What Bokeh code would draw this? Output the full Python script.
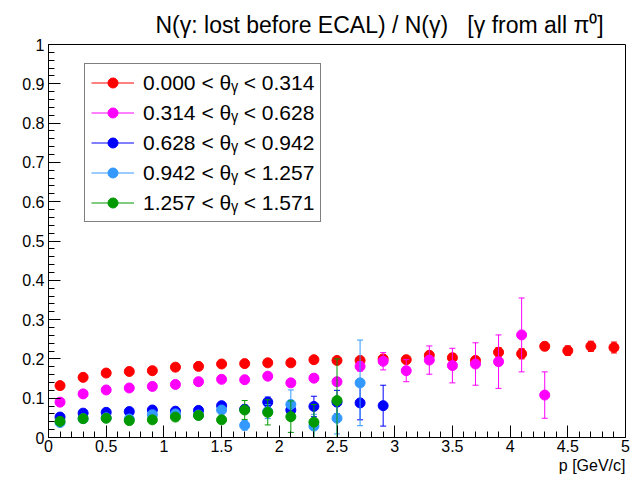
import numpy as np
from bokeh.plotting import figure
from bokeh.models import (FixedTicker, CustomJSTickFormatter, Legend, LegendItem,
                          Title, Range1d, ColumnDataSource)
from bokeh.embed import file_html
from bokeh.resources import INLINE

# ---------------- data ----------------
p_centers = [0.1, 0.3, 0.5, 0.7, 0.9, 1.1, 1.3, 1.5, 1.7, 1.9, 2.1, 2.3, 2.5,
             2.7, 2.9, 3.1, 3.3, 3.5, 3.7, 3.9, 4.1, 4.3, 4.5, 4.7, 4.9]

frac_theta1 = [0.132, 0.153, 0.164, 0.168, 0.170, 0.179, 0.181, 0.187, 0.188, 0.190,
               0.190, 0.198, 0.196, 0.196, 0.200, 0.198, 0.209, 0.203, 0.196, 0.217,
               0.213, 0.232, 0.221, 0.232, 0.229]
err_theta1 = [0.002, 0.002, 0.002, 0.002, 0.003, 0.003, 0.003, 0.003, 0.004, 0.004,
              0.005, 0.005, 0.006, 0.007, 0.008, 0.009, 0.010, 0.010, 0.010, 0.012,
              0.013, 0.010, 0.012, 0.013, 0.014]

frac_theta2 = [0.090, 0.111, 0.121, 0.126, 0.130, 0.135, 0.142, 0.148, 0.147, 0.156,
               0.139, 0.151, 0.142, 0.181, 0.194, 0.170, 0.197, 0.183, 0.187, 0.193,
               0.261, 0.108]
err_theta2 = [0.003, 0.003, 0.003, 0.004, 0.004, 0.005, 0.005, 0.006, 0.006, 0.007,
              0.008, 0.009, 0.010, 0.012, 0.022, 0.028, 0.036, 0.044, 0.054, 0.068,
              0.094, 0.059]

frac_theta3 = [0.052, 0.062, 0.064, 0.066, 0.070, 0.067, 0.069, 0.081, 0.072, 0.090,
               0.070, 0.079, 0.090, 0.088, 0.081]
err_theta3 = [0.003, 0.003, 0.004, 0.004, 0.005, 0.005, 0.006, 0.007, 0.010, 0.013,
              0.020, 0.026, 0.030, 0.043, 0.052]

frac_theta4 = [0.038, 0.048, 0.050, 0.047, 0.058, 0.060, 0.057, 0.070, 0.031, 0.066,
               0.084, 0.029, 0.049, 0.139]
err_theta4 = [0.003, 0.004, 0.004, 0.005, 0.006, 0.007, 0.008, 0.009, 0.012, 0.018,
              0.037, 0.030, 0.040, 0.109]

frac_theta5 = [0.041, 0.048, 0.049, 0.043, 0.045, 0.052, 0.056, 0.045, 0.070, 0.064,
               0.053, 0.039, 0.094]
err_theta5 = [0.003, 0.003, 0.004, 0.004, 0.005, 0.006, 0.007, 0.008, 0.024, 0.032,
              0.040, 0.045, 0.106]

series_labels = ["0.000 < θᵧ < 0.314", "0.314 < θᵧ < 0.628", "0.628 < θᵧ < 0.942",
                 "0.942 < θᵧ < 1.257", "1.257 < θᵧ < 1.571"]
series_colors = ["#ff0000", "#ff00ff", "#0000ff", "#3399ff", "#009900"]
series_values = [frac_theta1, frac_theta2, frac_theta3, frac_theta4, frac_theta5]
series_errors = [err_theta1, err_theta2, err_theta3, err_theta4, err_theta5]

x_major = [0, 0.5, 1, 1.5, 2, 2.5, 3, 3.5, 4, 4.5, 5]
x_minor = [i / 10 for i in range(51)]
y_major = [i / 10 for i in range(11)]
y_minor = [i / 50 for i in range(51)]

title_text = "N(γ: lost before ECAL) / N(γ)\u00a0\u00a0\u00a0[γ from all π⁰]"
x_title = "p [GeV/c]"

FONT = "Liberation Sans"

# ---------------- figure ----------------
p = figure(width=632, height=477, output_backend="svg", toolbar_location=None,
           x_range=Range1d(0, 5), y_range=Range1d(0, 1),
           min_border_left=48, min_border_right=7, min_border_top=44,
           min_border_bottom=40)
p.background_fill_color = "white"
p.border_fill_color = "white"
p.outline_line_color = "black"
p.outline_line_width = 1
p.xgrid.visible = False
p.ygrid.visible = False

p.title.text = title_text
p.title.text_font = FONT
p.title.text_font_size = "23px"
p.title.text_font_style = "normal"
p.title.text_color = "black"
p.title.align = "left"
p.title.offset = 107
p.title.standoff = 13

fmt = CustomJSTickFormatter(code="return tick.toFixed(1).replace(/\\.0$/, '');")
for ax, major, minor in ((p.xaxis[0], x_major, x_minor), (p.yaxis[0], y_major, y_minor)):
    ax.ticker = FixedTicker(ticks=major, minor_ticks=minor)
    ax.formatter = fmt
    ax.major_tick_in = 12
    ax.major_tick_out = 0
    ax.minor_tick_in = 6
    ax.minor_tick_out = 0
    ax.axis_line_color = "black"
    ax.major_tick_line_color = "black"
    ax.minor_tick_line_color = "black"
    ax.major_label_text_font = FONT
    ax.major_label_text_font_size = "16px"
    ax.major_label_text_color = "black"
    ax.major_label_standoff = 4
p.xaxis[0].major_label_standoff = 2

legend_items = []
for lab, col, vals, errs in zip(series_labels, series_colors, series_values, series_errors):
    n = len(vals)
    xs = p_centers[:n]
    v = np.array(vals)
    e = np.array(errs)
    src = ColumnDataSource(dict(x=xs, y=v, lo=v - e, hi=v + e))
    seg = p.segment(x0="x", y0="lo", x1="x", y1="hi", source=src, line_color=col, line_width=1)
    p.scatter(x="x", y="lo", source=src, marker="dash", size=6, line_color=col, line_width=1)
    p.scatter(x="x", y="hi", source=src, marker="dash", size=6, line_color=col, line_width=1)
    dot = p.scatter(x="x", y="y", source=src, marker="circle", size=10,
                    fill_color=col, line_color=col)
    legend_items.append(LegendItem(label=lab, renderers=[seg, dot]))

legend = Legend(items=legend_items, location=(36, 215))
legend.border_line_color = "black"
legend.border_line_width = 1
legend.background_fill_color = "white"
legend.background_fill_alpha = 1
legend.label_text_font = FONT
legend.label_text_font_size = "21px"
legend.label_text_color = "black"
legend.padding = 6
legend.spacing = 5
legend.glyph_height = 25
legend.glyph_width = 43
legend.label_height = 25
legend.label_standoff = 9
legend.margin = 0
p.add_layout(legend, "center")

xlab = Title(text=x_title, align="right", offset=0, standoff=0,
             text_font=FONT, text_font_size="16px", text_font_style="normal",
             text_color="black")
p.add_layout(xlab, "below")

open("out.html", "w").write(file_html(p, INLINE))
